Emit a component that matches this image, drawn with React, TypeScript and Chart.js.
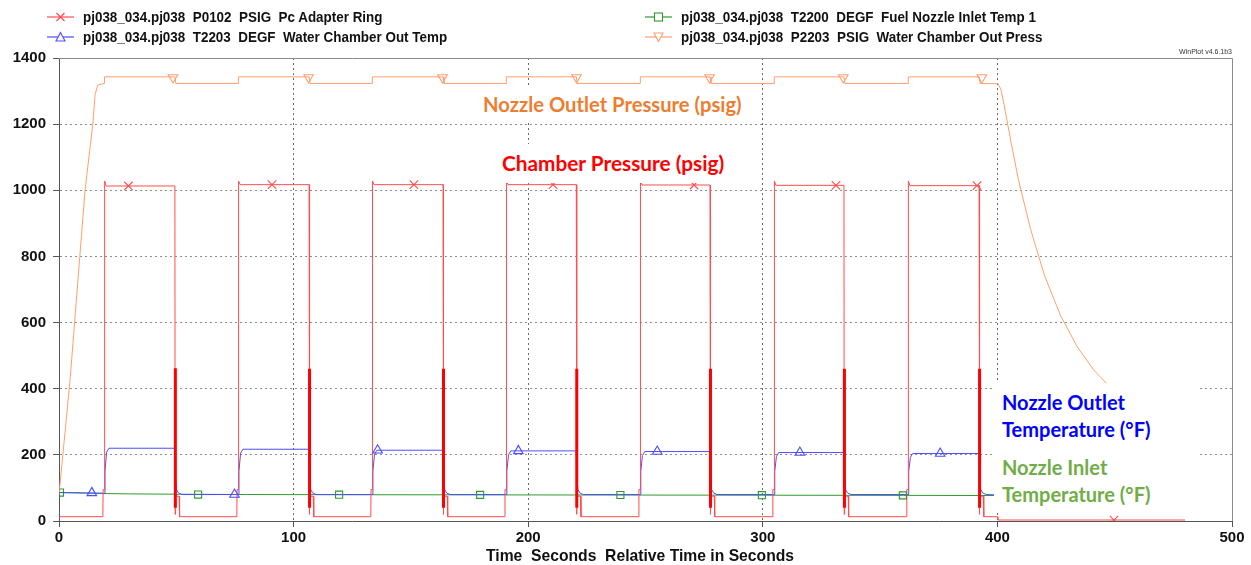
import React, { useEffect, useRef } from "react";
import { Chart, registerables } from "chart.js";
Chart.register(...registerables);

// ---------------- data ----------------
const xTicks = [0, 100, 200, 300, 400, 500];
const yTicks = [0, 200, 400, 600, 800, 1000, 1200, 1400];

// firing pulses (seconds)
const riseTimes = [19.3, 76.4, 133.5, 190.6, 247.7, 304.8, 361.9];
const fallTimes = [49.4, 106.6, 163.7, 220.5, 277.5, 334.6, 392.2];

// P0102 chamber pressure (psig)
const chamberOn = [1013, 1017, 1017, 1017, 1016, 1015, 1014];
const chamberOff = 13;
const chamberTail = 75;
const chamberPeak = 1028;
const chamberFinal = 3;
const chamberEnd = 480;
const chamberSpikeTop = [462, 460, 460, 460, 460, 460, 460];
const chamberSpikeBase = 40;

// T2203 water chamber out temp (degF)
const waterTempStart = 86;
const waterTempOn = [220, 217, 214, 212, 210, 207, 204];
const waterTempOff = 80;
const waterTempEnd = 399.5;

// T2200 fuel nozzle inlet temp (degF)
const fuelTemp: [number, number][] = [
  [0, 86], [8, 85], [19, 83], [30, 82], [50, 81], [80, 80], [120, 79.5],
  [180, 79], [240, 78.5], [300, 78], [360, 77.5], [399, 77],
];

// P2203 water chamber out pressure (psig)
const pressRamp: [number, number][] = [
  [0, 80], [4.7, 425], [11.1, 1000], [14.4, 1200], [15.4, 1290], [16.5, 1318], [19.3, 1323],
];
const pressOn = 1343;
const pressOff = 1323;
const pressDecay: [number, number][] = [
  [400.3, 1322], [401.5, 1305], [402.8, 1260], [404.5, 1195], [406.5, 1120], [409, 1031],
  [414, 886], [420, 744], [427, 620], [434, 527], [441, 457], [448, 405], [455, 365],
];

// marker positions
const chamberMarkX = [29.6, 90.8, 151.3, 210.6, 270.7, 331.2, 391.3, 449.7];
const chamberMarkY = [1013, 1017, 1017, 1017, 1016, 1015, 1014, 3];
const waterTempMarkX = [14.0, 74.8, 135.8, 195.8, 255.0, 315.8, 375.6];
const waterTempMarkY = [85, 80, 214, 212, 210, 207, 204];
const fuelMarkX = [0.4, 59.3, 119.4, 179.5, 239.3, 299.6, 359.7];
const fuelMarkY = [86, 80, 79.5, 79, 78.5, 78, 77.5];
const pressMarkX = [48.6, 106.4, 163.5, 220.6, 277.3, 334.3, 393.4];
const pressMarkY = [1341, 1341, 1341, 1341, 1341, 1341, 1341];

const legendLabels = [
  "pj038_034.pj038  P0102  PSIG  Pc Adapter Ring",
  "pj038_034.pj038  T2203  DEGF  Water Chamber Out Temp",
  "pj038_034.pj038  T2200  DEGF  Fuel Nozzle Inlet Temp 1",
  "pj038_034.pj038  P2203  PSIG  Water Chamber Out Press",
];
const xTitle = "Time  Seconds  Relative Time in Seconds";

// ---------------- colours ----------------
const RED = "#ff4d4d";
const BLUE = "#4d4dff";
const GREEN = "#2e9a2e";
const ORANGE = "#ff9f6e";

type P = { x: number; y: number | null };

function chamberSeries(): P[] {
  const pts: P[] = [{ x: 0, y: chamberOff }];
  riseTimes.forEach((r, i) => {
    const f = fallTimes[i];
    pts.push(
      { x: r - 0.6, y: chamberOff }, { x: r - 0.5, y: 95 }, { x: r, y: 95 },
      { x: r + 0.15, y: chamberPeak }, { x: r + 0.8, y: chamberOn[i] },
      { x: f, y: chamberOn[i] }, { x: f + 0.1, y: 20 }, { x: f + 0.3, y: chamberTail },
      { x: f + 1.8, y: chamberTail }, { x: f + 2.0, y: chamberOff }
    );
  });
  pts.push({ x: 400, y: chamberOff }, { x: 400.2, y: chamberFinal }, { x: chamberEnd, y: chamberFinal });
  return pts;
}

function spikeSeries(): P[] {
  const pts: P[] = [];
  fallTimes.forEach((f, i) => {
    pts.push({ x: f + 0.2, y: chamberSpikeBase }, { x: f + 0.2, y: chamberSpikeTop[i] }, { x: f + 0.21, y: null });
  });
  return pts;
}

function waterTempSeries(): P[] {
  const pts: P[] = [{ x: 0, y: waterTempStart }, { x: 10, y: 85 }];
  riseTimes.forEach((r, i) => {
    const f = fallTimes[i];
    const low = i === 0 ? 84 : waterTempOff;
    pts.push(
      { x: r, y: low }, { x: r + 0.3, y: 150 }, { x: r + 1.0, y: waterTempOn[i] - 12 },
      { x: r + 2.0, y: waterTempOn[i] }, { x: f, y: waterTempOn[i] },
      { x: f + 0.2, y: 135 }, { x: f + 0.7, y: 95 }, { x: f + 1.5, y: 85 }, { x: f + 3, y: waterTempOff }
    );
  });
  pts.push({ x: waterTempEnd, y: 79 });
  return pts;
}

function pressSeries(): P[] {
  const pts: P[] = pressRamp.map(([x, y]) => ({ x, y }));
  riseTimes.forEach((r, i) => {
    const f = fallTimes[i];
    pts.push({ x: r + 0.1, y: pressOn }, { x: f, y: pressOn }, { x: f + 0.4, y: pressOff });
    if (i < riseTimes.length - 1) pts.push({ x: riseTimes[i + 1], y: pressOff });
  });
  pressDecay.forEach(([x, y]) => pts.push({ x, y }));
  return pts;
}

function markers(xs: number[], ys: number[]): P[] {
  return xs.map((x, i) => ({ x, y: ys[i] }));
}

const FONT = "'Liberation Sans', Arial, sans-serif";

function LegendSample({ color, marker }: { color: string; marker: string }) {
  let m: React.ReactNode = null;
  if (marker === "x")
    m = <path d="M9.5 2 L17.5 10 M17.5 2 L9.5 10" stroke={color} strokeWidth={1.2} fill="none" />;
  else if (marker === "tri")
    m = <path d="M13.5 1.5 L18 10 L9 10 Z" stroke={color} strokeWidth={1.1} fill="white" />;
  else if (marker === "sq")
    m = <rect x={9.5} y={2} width={8} height={8} stroke={color} strokeWidth={1.1} fill="white" />;
  else
    m = <path d="M13.5 10.5 L18 2 L9 2 Z" stroke={color} strokeWidth={1.1} fill="white" />;
  return (
    <svg width={27} height={12} style={{ position: "absolute", left: 0, top: 3 }}>
      <line x1={0} y1={6} x2={27} y2={6} stroke={color} strokeWidth={1.2} />
      {m}
    </svg>
  );
}

export default function App() {
  const canvasRef = useRef<HTMLCanvasElement | null>(null);

  useEffect(() => {
    const canvas = canvasRef.current;
    if (!canvas) return;

    const frame = {
      id: "frame",
      beforeDatasetsDraw(chart: any) {
        const { ctx, chartArea: a } = chart;
        ctx.save();
        ctx.strokeStyle = "#8a8a8a";
        ctx.lineWidth = 1;
        ctx.beginPath();
        ctx.moveTo(a.left, a.top + 0.5);
        ctx.lineTo(a.right + 0.5, a.top + 0.5);
        ctx.lineTo(a.right + 0.5, a.bottom);
        ctx.stroke();
        ctx.restore();
      },
    };

    const gridColor = (edgeA: number, edgeB: number, col: string) => (c: any) =>
      c.tick && (c.tick.value === edgeA || c.tick.value === edgeB) ? "rgba(0,0,0,0)" : col;

    const lineDs = (data: P[], color: string, width = 1) => ({
      type: "line" as const,
      data,
      borderColor: color,
      borderWidth: width,
      pointRadius: 0,
      tension: 0,
      spanGaps: false,
      fill: false,
    });
    const markDs = (data: P[], color: string, style: string, radius: number, rotation = 0) => ({
      type: "line" as const,
      data,
      showLine: false,
      borderColor: color,
      backgroundColor: "rgba(0,0,0,0)",
      pointStyle: style,
      pointRadius: radius,
      pointBorderWidth: 1.1,
      pointRotation: rotation,
      pointBorderColor: color,
      pointBackgroundColor: "rgba(0,0,0,0)",
    });

    const tickText = (v: any) => String(v);

    const chart = new Chart(canvas, {
      type: "line",
      data: {
        datasets: [
          markDs(markers(chamberMarkX, chamberMarkY), RED, "crossRot", 6) as any,
          markDs(markers(waterTempMarkX, waterTempMarkY), BLUE, "triangle", 5.5) as any,
          markDs(markers(fuelMarkX, fuelMarkY), GREEN, "rect", 5) as any,
          markDs(markers(pressMarkX, pressMarkY), ORANGE, "triangle", 5.5, 180) as any,
          lineDs(spikeSeries(), "#ff0000", 3) as any,
          lineDs(chamberSeries(), RED) as any,
          lineDs(waterTempSeries(), BLUE) as any,
          lineDs(fuelTemp.map(([x, y]) => ({ x, y })), GREEN) as any,
          lineDs(pressSeries(), ORANGE) as any,
        ],
      },
      options: {
        animation: false,
        responsive: false,
        maintainAspectRatio: false,
        layout: { padding: { top: 58, right: 19, left: 0, bottom: 0 } },
        plugins: { legend: { display: false }, tooltip: { enabled: false }, title: { display: false } },
        scales: {
          x: {
            type: "linear",
            min: xTicks[0],
            max: xTicks[xTicks.length - 1],
            afterFit: (s: any) => { s.height = 44; },
            afterBuildTicks: (s: any) => { s.ticks = xTicks.map((v) => ({ value: v })); },
            ticks: { font: { family: FONT, size: 15, weight: "bold" }, color: "#111", padding: 2, maxRotation: 0, callback: tickText },
            grid: { color: gridColor(0, 500, "#6a6a6a"), lineWidth: 1, tickLength: 6, tickColor: "#555", drawTicks: true },
            border: { display: true, color: "#555", dash: [2, 3] },
          },
          y: {
            type: "linear",
            min: yTicks[0],
            max: yTicks[yTicks.length - 1],
            afterFit: (s: any) => { s.width = 59; },
            afterBuildTicks: (s: any) => { s.ticks = yTicks.map((v) => ({ value: v })); },
            ticks: { font: { family: FONT, size: 15, weight: "bold" }, color: "#111", padding: 7, callback: tickText },
            grid: { color: gridColor(0, 1400, "#8c8c8c"), lineWidth: 1, tickLength: 6, tickColor: "#555", drawTicks: true },
            border: { display: true, color: "#555", dash: [2, 3] },
          },
        },
      } as any,
      plugins: [frame],
    });
    return () => chart.destroy();
  }, []);

  const legendPos = [
    { left: 47, top: 17, color: RED, marker: "x" },
    { left: 47, top: 37, color: BLUE, marker: "tri" },
    { left: 645, top: 17, color: GREEN, marker: "sq" },
    { left: 645, top: 37, color: ORANGE, marker: "tridown" },
  ];

  const noteFont = "Lato, 'Open Sans', sans-serif";

  return (
    <div style={{ position: "absolute", left: 0, top: 0, width: 1251, height: 565, background: "#fff", overflow: "hidden" }}>
      <canvas ref={canvasRef} width={1251} height={565} style={{ position: "absolute", left: 0, top: 0, width: 1251, height: 565 }} />

      {legendLabels.map((label, i) => {
        const p = legendPos[i];
        return (
          <div key={i} style={{ position: "absolute", left: p.left, top: p.top - 9, height: 18, width: 560 }}>
            <LegendSample color={p.color} marker={p.marker} />
            <span
              style={{
                position: "absolute", left: 36, top: 0, lineHeight: "18px", whiteSpace: "pre",
                font: `bold 15px ${FONT}`, color: "#111", transform: "scaleX(0.895)", transformOrigin: "left center",
              }}
            >
              {label}
            </span>
          </div>
        );
      })}

      <div style={{ position: "absolute", right: 1251 - 1232, top: 47, font: `7px ${FONT}`, color: "#333", lineHeight: "9px" }}>
        WinPlot v4.6.1b3
      </div>

      <div style={{ position: "absolute", left: 440, width: 400, top: 547, textAlign: "center", font: `bold 15.7px ${FONT}`, color: "#111", lineHeight: "18px", whiteSpace: "pre" }}>
        {xTitle}
      </div>

      <div style={{ position: "absolute", left: 478, top: 87, height: 34, padding: "0 5px", background: "#fff", font: `bold 20.2px ${noteFont}`, color: "#ED7D31", lineHeight: "34px", whiteSpace: "pre" }}>
        Nozzle Outlet Pressure (psig)
      </div>
      <div style={{ position: "absolute", left: 497, top: 144, height: 39, padding: "0 5px", background: "#fff", font: `bold 20.8px ${noteFont}`, color: "#FF0000", lineHeight: "38px", whiteSpace: "pre" }}>
        Chamber Pressure (psig)
      </div>
      <div style={{ position: "absolute", left: 994, top: 383, width: 203, height: 63, background: "#fff", font: `bold 20px ${noteFont}`, color: "#0000FF", lineHeight: "27px", whiteSpace: "pre", boxSizing: "border-box", paddingLeft: 8, paddingTop: 6 }}>
        {"Nozzle Outlet\nTemperature (°F)"}
      </div>
      <div style={{ position: "absolute", left: 994, top: 448, width: 203, height: 65, background: "#fff", font: `bold 20px ${noteFont}`, color: "#70AD47", lineHeight: "27px", whiteSpace: "pre", boxSizing: "border-box", paddingLeft: 8, paddingTop: 5.5 }}>
        {"Nozzle Inlet\nTemperature (°F)"}
      </div>
    </div>
  );
}
